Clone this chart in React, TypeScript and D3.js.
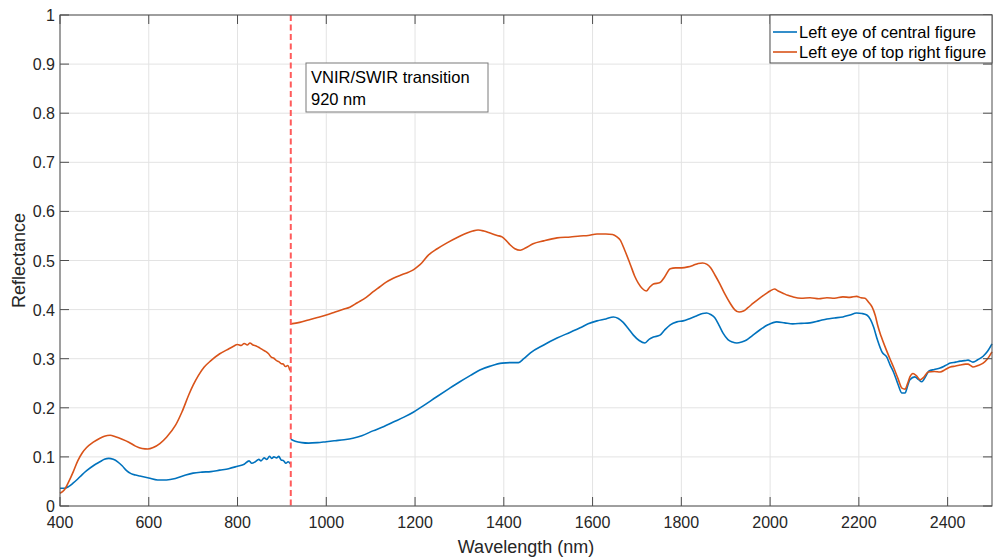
import React from "react";
import * as d3 from "d3";

const xTicks = [400, 600, 800, 1000, 1200, 1400, 1600, 1800, 2000, 2200, 2400];
const yTicks = [0, 0.1, 0.2, 0.3, 0.4, 0.5, 0.6, 0.7, 0.8, 0.9, 1];
const seriesNames = ["Left eye of central figure", "Left eye of top right figure"];
const seriesColors = ["#0072BD", "#D95319"];
const transitionWl = 920;

// Central figure, VNIR segment [wavelength, reflectance]
const centralVnir: [number, number][] = [
  [400, .036], [410, .036], [420, .040], [430, .047], [440, .055], [450, .064], [460, .072], [475, .082],
  [490, .090], [500, .095], [510, .097], [520, .095], [530, .090], [540, .082], [550, .072], [560, .066],
  [570, .063], [580, .061], [600, .057], [620, .053], [640, .053], [660, .056], [680, .062], [700, .067],
  [720, .069], [740, .070], [760, .073], [780, .076], [800, .081], [815, .085], [826, .092], [832, .087],
  [840, .090], [848, .095], [853, .092], [860, .098], [866, .095], [872, .101], [877, .097], [882, .100],
  [888, .098], [893, .101], [898, .094], [904, .092], [909, .087], [914, .090], [919, .086],
];
const centralSwir: [number, number][] = [
  [920, .136], [930, .132], [945, .129], [960, .128], [980, .129], [1000, .131], [1020, .133], [1040, .135],
  [1060, .138], [1080, .143], [1105, .153], [1130, .162], [1151, .171], [1175, .181], [1196, .191], [1220, .205],
  [1248, .222], [1275, .238], [1301, .253], [1325, .266], [1346, .277], [1370, .285], [1396, .291], [1415, .292],
  [1433, .292], [1445, .300], [1460, .312], [1490, .328], [1520, .342], [1550, .354], [1572, .363], [1590, .371],
  [1610, .377], [1630, .381], [1647, .385], [1658, .382], [1669, .374], [1680, .362], [1692, .348], [1705, .337],
  [1718, .332], [1728, .340], [1737, .344], [1752, .348], [1762, .358], [1775, .369], [1790, .375], [1804, .377],
  [1820, .382], [1834, .387], [1848, .392], [1857, .393], [1866, .390], [1875, .384], [1885, .368], [1894, .352],
  [1905, .339], [1915, .334], [1925, .332], [1936, .334], [1947, .338], [1960, .347], [1976, .358], [1995, .369],
  [2015, .375], [2033, .373], [2051, .371], [2070, .372], [2090, .373], [2110, .377], [2128, .381], [2145, .383],
  [2164, .385], [2180, .389], [2195, .393], [2207, .392], [2218, .389], [2226, .380], [2233, .365], [2242, .338],
  [2252, .314], [2263, .303], [2270, .288], [2278, .273], [2289, .246], [2297, .230], [2304, .230], [2310, .245],
  [2315, .257], [2326, .263], [2334, .258], [2342, .253], [2350, .263], [2358, .275], [2370, .278], [2383, .281],
  [2395, .286], [2406, .291], [2418, .293], [2428, .295], [2438, .296], [2446, .297], [2457, .293], [2468, .298],
  [2480, .305], [2490, .315], [2500, .330],
];

// Top right figure
const topRightVnir: [number, number][] = [
  [400, .026], [410, .033], [420, .050], [430, .070], [440, .092], [450, .108], [460, .119], [475, .130],
  [490, .138], [500, .142], [513, .144], [525, .141], [540, .136], [555, .130], [570, .122], [585, .117],
  [598, .116], [610, .119], [625, .127], [640, .140], [660, .164], [675, .192], [690, .226], [700, .246],
  [712, .266], [725, .283], [740, .296], [760, .310], [776, .318], [790, .325], [800, .329], [808, .327],
  [815, .331], [822, .328], [828, .332], [835, .328], [842, .326], [850, .322], [857, .318], [863, .315],
  [870, .310], [876, .303], [882, .301], [888, .296], [893, .294], [898, .290], [903, .289], [908, .284],
  [913, .286], [918, .276],
];
const topRightSwir: [number, number][] = [
  [920, .371], [940, .374], [960, .379], [980, .384], [1000, .389], [1020, .395], [1040, .401], [1053, .405],
  [1070, .414], [1090, .425], [1105, .436], [1120, .446], [1135, .456], [1151, .464], [1170, .471], [1185, .476],
  [1196, .481], [1205, .487], [1215, .495], [1230, .511], [1250, .524], [1272, .536], [1295, .547], [1317, .556],
  [1330, .560], [1342, .562], [1355, .560], [1369, .556], [1385, .551], [1396, .548], [1405, .541], [1414, .532],
  [1425, .524], [1437, .521], [1450, .526], [1466, .534], [1490, .540], [1520, .546], [1550, .548], [1572, .550],
  [1590, .551], [1610, .554], [1630, .554], [1645, .553], [1655, .548], [1662, .542], [1672, .522], [1685, .492],
  [1695, .468], [1703, .454], [1712, .443], [1721, .438], [1729, .446], [1737, .452], [1752, .455], [1762, .466],
  [1775, .483], [1787, .485], [1801, .485], [1815, .487], [1826, .490], [1838, .494], [1848, .495], [1858, .492],
  [1866, .485], [1876, .470], [1887, .452], [1898, .432], [1910, .413], [1920, .400], [1930, .395], [1940, .397],
  [1950, .404], [1962, .413], [1976, .423], [1990, .432], [2000, .438], [2010, .442], [2018, .438], [2028, .434],
  [2040, .429], [2051, .426], [2070, .423], [2090, .424], [2110, .422], [2128, .424], [2145, .423], [2164, .426],
  [2180, .425], [2195, .427], [2205, .424], [2214, .423], [2222, .415], [2230, .405], [2237, .388], [2243, .366],
  [2250, .346], [2260, .322], [2270, .300], [2278, .283], [2288, .260], [2297, .240], [2304, .238], [2310, .250],
  [2315, .263], [2322, .270], [2330, .265], [2338, .257], [2346, .262], [2356, .273], [2370, .274], [2383, .273],
  [2395, .278], [2406, .283], [2418, .285], [2428, .287], [2440, .289], [2446, .289], [2452, .286], [2457, .283],
  [2468, .286], [2480, .291], [2490, .300], [2500, .314],
];

const W = 993, H = 557;
const M = { left: 60, right: 992, top: 15, bottom: 506 };
const FONT = "'Liberation Sans', Arial, Helvetica, sans-serif";
const TXT = "#262626";

export default function App() {
  const x = d3.scaleLinear().domain([400, 2500]).range([M.left, M.right]);
  const y = d3.scaleLinear().domain([0, 1]).range([M.bottom, M.top]);
  const line = d3.line<[number, number]>().x(d => x(d[0])).y(d => y(d[1])).curve(d3.curveMonotoneX);
  const tick = 9;
  const segs = [
    { d: centralVnir, c: seriesColors[0] },
    { d: centralSwir, c: seriesColors[0] },
    { d: topRightVnir, c: seriesColors[1] },
    { d: topRightSwir, c: seriesColors[1] },
  ];
  const lx = 770, ly = 15, lw = 222, lh = 48;
  return (
    <svg width={W} height={H} style={{ position: "absolute", left: 0, top: 0, background: "#fff" }} fontFamily={FONT}>
      <rect x={0} y={0} width={W} height={H} fill="#fff" />
      {/* grid */}
      {xTicks.map(t => (
        <line key={"gx" + t} x1={x(t)} x2={x(t)} y1={M.top} y2={M.bottom} stroke="#e3e3e3" strokeWidth={1} />
      ))}
      {yTicks.map(t => (
        <line key={"gy" + t} x1={M.left} x2={M.right} y1={y(t)} y2={y(t)} stroke="#e3e3e3" strokeWidth={1} />
      ))}
      {/* data */}
      {segs.map((s, i) => (
        <path key={i} d={line(s.d) || ""} fill="none" stroke={s.c} strokeWidth={1.6} strokeLinejoin="round" />
      ))}
      {/* transition line */}
      <line x1={x(transitionWl)} x2={x(transitionWl)} y1={M.top} y2={M.bottom} stroke="#ff5b5b" strokeWidth={2} strokeDasharray="6,3.5" />
      {/* axes box */}
      <rect x={M.left} y={M.top} width={M.right - M.left} height={M.bottom - M.top} fill="none" stroke="#4d4d4d" strokeWidth={1} />
      {xTicks.map(t => (
        <g key={"tx" + t}>
          <line x1={x(t)} x2={x(t)} y1={M.bottom} y2={M.bottom - tick} stroke="#4d4d4d" />
          <line x1={x(t)} x2={x(t)} y1={M.top} y2={M.top + tick} stroke="#4d4d4d" />
          <text x={x(t)} y={528} textAnchor="middle" fontSize={16} fill={TXT}>{t}</text>
        </g>
      ))}
      {yTicks.map(t => (
        <g key={"ty" + t}>
          <line x1={M.left} x2={M.left + tick} y1={y(t)} y2={y(t)} stroke="#4d4d4d" />
          <line x1={M.right} x2={M.right - tick} y1={y(t)} y2={y(t)} stroke="#4d4d4d" />
          <text x={55} y={y(t) + 6} textAnchor="end" fontSize={16} fill={TXT}>{t === 0 ? "0" : t === 1 ? "1" : String(t)}</text>
        </g>
      ))}
      <text x={(M.left + M.right) / 2} y={553} textAnchor="middle" fontSize={18} fill={TXT}>Wavelength (nm)</text>
      <text transform={`translate(25,${(M.top + M.bottom) / 2}) rotate(-90)`} textAnchor="middle" fontSize={18} fill={TXT}>Reflectance</text>
      {/* annotation */}
      <rect x={306} y={63} width={182} height={49} fill="#fff" stroke="#7a7a7a" strokeWidth={1} />
      <text x={311} y={83} fontSize={16.5} fill="#000">VNIR/SWIR transition</text>
      <text x={311} y={104.5} fontSize={16.5} fill="#000">920 nm</text>
      {/* legend */}
      <rect x={lx} y={ly} width={lw} height={lh} fill="#fff" stroke="#4d4d4d" strokeWidth={1} />
      {seriesNames.map((n, i) => (
        <g key={n}>
          <line x1={773} x2={797} y1={32 + i * 20} y2={32 + i * 20} stroke={seriesColors[i]} strokeWidth={1.6} />
          <text x={799} y={38 + i * 20} fontSize={16.5} fill="#000">{n}</text>
        </g>
      ))}
    </svg>
  );
}
